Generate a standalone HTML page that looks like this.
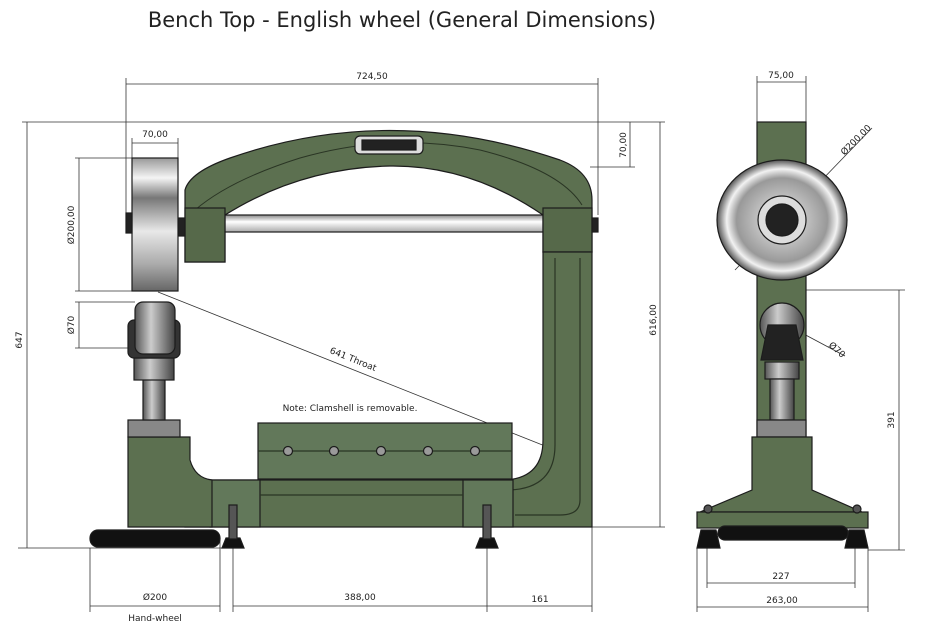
<!DOCTYPE html>
<html><head><meta charset="utf-8"><style>
html,body{margin:0;padding:0;background:#fff}
svg{display:block}
text{font-family:"DejaVu Sans","Liberation Sans",sans-serif;fill:#222}
</style></head><body>
<svg width="931" height="633" viewBox="0 0 931 633" xmlns="http://www.w3.org/2000/svg">
<defs>
<linearGradient id="silv" x1="0" y1="0" x2="0" y2="1">
<stop offset="0" stop-color="#999"/><stop offset="0.15" stop-color="#f4f4f4"/><stop offset="0.3" stop-color="#777"/><stop offset="0.55" stop-color="#e8e8e8"/><stop offset="0.8" stop-color="#aaa"/><stop offset="1" stop-color="#666"/></linearGradient>
<linearGradient id="rod" x1="0" y1="0" x2="0" y2="1">
<stop offset="0" stop-color="#888"/><stop offset="0.4" stop-color="#fff"/><stop offset="1" stop-color="#aaa"/></linearGradient>
<linearGradient id="cyl" x1="0" y1="0" x2="1" y2="0">
<stop offset="0" stop-color="#555"/><stop offset="0.4" stop-color="#ccc"/><stop offset="1" stop-color="#444"/></linearGradient>
<radialGradient id="disc" cx="0.5" cy="0.5" r="0.5">
<stop offset="0" stop-color="#eee"/><stop offset="0.7" stop-color="#999"/><stop offset="0.85" stop-color="#f2f2f2"/><stop offset="1" stop-color="#555"/></radialGradient>
</defs>
<text x="402" y="27" font-size="21" text-anchor="middle">Bench Top - English wheel (General Dimensions)</text>

<g stroke="#333" stroke-width="0.8" fill="none">
<line x1="126" y1="78" x2="126" y2="230"/><line x1="598" y1="78" x2="598" y2="215"/>
<line x1="126" y1="84" x2="598" y2="84"/>
<line x1="22" y1="122" x2="665" y2="122"/>
<line x1="27" y1="122" x2="27" y2="548"/>
<line x1="18" y1="548" x2="235" y2="548"/>
<line x1="660" y1="122" x2="660" y2="527"/>
<line x1="592" y1="527" x2="665" y2="527"/>
<line x1="590" y1="167" x2="635" y2="167"/><line x1="630" y1="122" x2="630" y2="167"/>
<line x1="132" y1="138" x2="132" y2="158"/><line x1="178" y1="138" x2="178" y2="158"/>
<line x1="132" y1="143" x2="178" y2="143"/>
<line x1="75" y1="158" x2="132" y2="158"/><line x1="75" y1="291" x2="132" y2="291"/>
<line x1="79" y1="158" x2="79" y2="291"/>
<line x1="75" y1="302" x2="135" y2="302"/><line x1="75" y1="348" x2="135" y2="348"/>
<line x1="79" y1="302" x2="79" y2="348"/>
<line x1="158" y1="292" x2="545" y2="446"/>
<line x1="90" y1="548" x2="90" y2="612"/><line x1="220" y1="540" x2="220" y2="612"/>
<line x1="90" y1="606" x2="220" y2="606"/>
<line x1="233" y1="545" x2="233" y2="612"/><line x1="487" y1="545" x2="487" y2="612"/>
<line x1="592" y1="527" x2="592" y2="612"/>
<line x1="233" y1="606" x2="592" y2="606"/>
<line x1="757" y1="76" x2="757" y2="122"/><line x1="806" y1="76" x2="806" y2="122"/>
<line x1="757" y1="82" x2="806" y2="82"/>
<line x1="735" y1="270" x2="872" y2="128"/>
<line x1="805" y1="290" x2="905" y2="290"/><line x1="868" y1="550" x2="905" y2="550"/>
<line x1="899" y1="290" x2="899" y2="550"/>
<line x1="800" y1="332" x2="845" y2="356"/>
<line x1="707" y1="540" x2="707" y2="588"/><line x1="855" y1="540" x2="855" y2="588"/>
<line x1="707" y1="583" x2="855" y2="583"/>
<line x1="697" y1="548" x2="697" y2="612"/><line x1="868" y1="548" x2="868" y2="612"/>
<line x1="697" y1="607" x2="868" y2="607"/>
</g>

<g font-size="9">
<text x="372" y="79" text-anchor="middle">724,50</text>
<text x="155" y="137" text-anchor="middle">70,00</text>
<text transform="translate(74,225) rotate(-90)" text-anchor="middle">Ø200,00</text>
<text transform="translate(74,325) rotate(-90)" text-anchor="middle">Ø70</text>
<text transform="translate(22,340) rotate(-90)" text-anchor="middle">647</text>
<text transform="translate(656,320) rotate(-90)" text-anchor="middle">616,00</text>
<text transform="translate(626,145) rotate(-90)" text-anchor="middle">70,00</text>
<text transform="translate(352,362) rotate(22)" text-anchor="middle">641 Throat</text>
<text x="350" y="411" text-anchor="middle">Note: Clamshell is removable.</text>
<text x="155" y="600" text-anchor="middle">Ø200</text>
<text x="155" y="621" text-anchor="middle">Hand-wheel</text>
<text x="360" y="600" text-anchor="middle">388,00</text>
<text x="540" y="602" text-anchor="middle">161</text>
<text x="781" y="78" text-anchor="middle">75,00</text>
<text transform="translate(858,142) rotate(-45)" text-anchor="middle">Ø200,00</text>
<text transform="translate(835,352) rotate(42)" text-anchor="middle">Ø70</text>
<text transform="translate(894,420) rotate(-90)" text-anchor="middle">391</text>
<text x="781" y="579" text-anchor="middle">227</text>
<text x="782" y="603" text-anchor="middle">263,00</text>
</g>

<g stroke="#1c1c1c" stroke-width="1.2">
<path d="M185 262 L185 190 Q190 172 230 158 Q390 102 560 160 Q592 172 592 200 L592 252 L543 252 L543 215 Q470 165 390 166 Q300 168 225 215 L225 262 Z" fill="#5c7050"/>
<path d="M195 210 Q230 180 300 158 Q390 132 480 150 Q560 170 582 205" fill="none" stroke="#2a3524" stroke-width="1"/>
<rect x="355" y="136" width="68" height="18" rx="5" fill="#ddd"/>
<rect x="362" y="140" width="54" height="10" fill="#222"/>
<rect x="225" y="215" width="318" height="17" fill="url(#rod)"/>
<rect x="185" y="208" width="40" height="54" fill="#56694a"/>
<rect x="543" y="208" width="49" height="44" fill="#56694a"/>
<rect x="592" y="218" width="6" height="14" fill="#222"/>
<rect x="178" y="218" width="7" height="18" fill="#222"/>
<path d="M543 252 L592 252 L592 527 L185 527 L185 480 L505 480 Q543 478 543 440 Z" fill="#5c7050"/>
<path d="M555 258 L555 445 Q555 488 510 490" fill="none" stroke="#2a3524"/>
<path d="M580 258 L580 500 Q580 515 560 515 L515 515" fill="none" stroke="#2a3524"/>
<rect x="210" y="480" width="50" height="47" fill="#62785a"/>
<rect x="463" y="480" width="50" height="47" fill="#62785a"/>
<line x1="260" y1="495" x2="463" y2="495" stroke="#2a3524"/>
<path d="M128 437 L190 437 L190 460 Q195 478 212 480 L212 527 L128 527 Z" fill="#5c7050"/>
<rect x="128" y="420" width="52" height="17" fill="#888"/>
<rect x="143" y="378" width="22" height="42" fill="url(#cyl)"/>
<rect x="134" y="358" width="40" height="22" fill="url(#cyl)"/>
<rect x="128" y="320" width="52" height="38" rx="6" fill="#333"/>
<rect x="135" y="302" width="40" height="52" rx="8" fill="url(#cyl)"/>
<rect x="132" y="158" width="46" height="133" fill="url(#silv)"/>
<rect x="126" y="213" width="6" height="20" fill="#222"/>
<rect x="258" y="423" width="254" height="56" fill="#62785a"/>
<line x1="258" y1="451" x2="512" y2="451" stroke="#2a3524"/>
<g fill="#9a9a9a"><circle cx="288" cy="451" r="4.5"/><circle cx="334" cy="451" r="4.5"/><circle cx="381" cy="451" r="4.5"/><circle cx="428" cy="451" r="4.5"/><circle cx="475" cy="451" r="4.5"/></g>
<rect x="90" y="530" width="130" height="17" rx="8" fill="#111"/>
<path d="M222 548 L244 548 L240 538 L226 538 Z" fill="#111"/>
<rect x="229" y="505" width="8" height="34" fill="#555"/>
<path d="M476 548 L498 548 L494 538 L480 538 Z" fill="#111"/>
<rect x="483" y="505" width="8" height="34" fill="#555"/>
</g>

<g stroke="#1c1c1c" stroke-width="1.2">
<rect x="757" y="122" width="49" height="320" fill="#5c7050"/>
<ellipse cx="782" cy="220" rx="65" ry="60" fill="url(#disc)"/>
<circle cx="782" cy="220" r="24" fill="#ddd"/>
<circle cx="782" cy="220" r="16" fill="#222"/>
<circle cx="782" cy="325" r="22" fill="url(#cyl)"/>
<path d="M768 325 L796 325 L803 360 L761 360 Z" fill="#222"/>
<rect x="765" y="362" width="34" height="17" fill="url(#cyl)"/>
<rect x="770" y="379" width="24" height="41" fill="url(#cyl)"/>
<rect x="757" y="420" width="49" height="17" fill="#888"/>
<path d="M752 437 L812 437 L812 490 L862 512 L700 512 L752 490 Z" fill="#5c7050"/>
<rect x="697" y="512" width="171" height="16" fill="#5c7050"/>
<rect x="718" y="526" width="130" height="14" rx="7" fill="#111"/>
<path d="M697 548 L720 548 L716 530 L701 530 Z" fill="#111"/>
<path d="M845 548 L868 548 L864 530 L849 530 Z" fill="#111"/>
<circle cx="708" cy="509" r="4" fill="#555"/><circle cx="857" cy="509" r="4" fill="#555"/>
</g>
</svg>
</body></html>
